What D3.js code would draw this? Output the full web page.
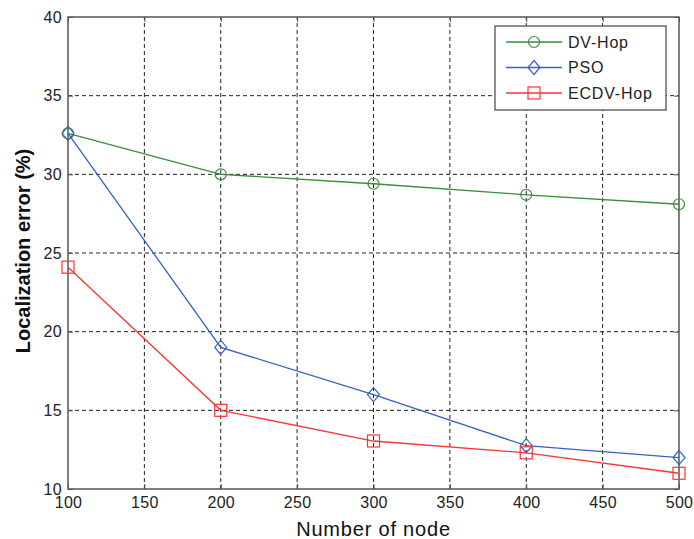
<!DOCTYPE html>
<html>
<head>
<meta charset="utf-8">
<script src="https://cdn.jsdelivr.net/npm/d3@7"></script>
<style>
  body { margin: 0; background: #fff; }
  svg text { font-family: "Liberation Sans", Arial, sans-serif; }
</style>
</head>
<body>
<div id="container"></div>
<script>
/* DATA */
const nodes = [100, 200, 300, 400, 500];
const dvHop = [32.6, 30.0, 29.4, 28.7, 28.1];
const pso = [32.6, 19.0, 16.0, 12.75, 12.0];
const ecdvHop = [24.1, 15.0, 13.05, 12.3, 11.0];
const xTicks = [100, 150, 200, 250, 300, 350, 400, 450, 500];
const yTicks = [10, 15, 20, 25, 30, 35, 40];

const width = 694, height = 539,
  margin = { top: 17, bottom: 50, left: 68, right: 15 };

const series = [
  { name: "DV-Hop", values: dvHop, color: "#3a8d3a", marker: "circle" },
  { name: "PSO", values: pso, color: "#3563c0", marker: "diamond" },
  { name: "ECDV-Hop", values: ecdvHop, color: "#ff3333", marker: "square" }
];

const svg = d3.select("#container").append("svg")
  .attr("width", width)
  .attr("height", height);

// SCALES
const xScale = d3.scaleLinear()
  .domain([100, 500])
  .range([margin.left, width - margin.right]);

const yScale = d3.scaleLinear()
  .domain([10, 40])
  .range([height - margin.bottom, margin.top]);

const x0 = xScale.range()[0], x1 = xScale.range()[1];
const y0 = yScale.range()[0], y1 = yScale.range()[1];

// GRID (dashed)
svg.append("g").selectAll("line")
  .data(xTicks.slice(1, -1))
  .join("line")
  .attr("x1", d => xScale(d)).attr("x2", d => xScale(d))
  .attr("y1", y0).attr("y2", y1)
  .attr("stroke", "#222").attr("stroke-dasharray", "4,3");

svg.append("g").selectAll("line")
  .data(yTicks.slice(1, -1))
  .join("line")
  .attr("y1", d => yScale(d)).attr("y2", d => yScale(d))
  .attr("x1", x0).attr("x2", x1)
  .attr("stroke", "#222").attr("stroke-dasharray", "4,3");

// AXES (Matlab style: ticks inward, on all four sides)
const axisColor = "#555";
function styleAxis(g) {
  g.select(".domain").remove();
  g.selectAll(".tick line").attr("stroke", axisColor);
  g.selectAll(".tick text").attr("fill", "#222").style("font-size", "16px")
    .style("letter-spacing", "0.3px")
    .style("font-family", "Liberation Sans, Arial, sans-serif");
}

svg.append("g")
  .attr("transform", `translate(0,${y0})`)
  .call(d3.axisBottom(xScale).tickValues(xTicks).tickSizeInner(-5).tickSizeOuter(0).tickPadding(8))
  .call(styleAxis);

svg.append("g")
  .attr("transform", `translate(0,${y1})`)
  .call(d3.axisTop(xScale).tickValues(xTicks).tickSizeInner(-5).tickSizeOuter(0).tickFormat(""))
  .call(styleAxis);

svg.append("g")
  .attr("transform", `translate(${x0},0)`)
  .call(d3.axisLeft(yScale).tickValues(yTicks).tickSizeInner(-5).tickSizeOuter(0).tickPadding(6))
  .call(styleAxis);

svg.append("g")
  .attr("transform", `translate(${x1},0)`)
  .call(d3.axisRight(yScale).tickValues(yTicks).tickSizeInner(-5).tickSizeOuter(0).tickFormat(""))
  .call(styleAxis);

svg.append("rect")
  .attr("x", x0).attr("y", y1)
  .attr("width", x1 - x0).attr("height", y0 - y1)
  .attr("fill", "none").attr("stroke", axisColor).attr("stroke-width", 1.5);

// AXIS LABELS
svg.append("text")
  .attr("x", (x0 + x1) / 2)
  .attr("y", 536)
  .attr("text-anchor", "middle")
  .attr("fill", "#111")
  .style("font-size", "20px")
  .style("letter-spacing", "0.8px")
  .text("Number of node");

svg.append("text")
  .attr("transform", `translate(30,${(y0 + y1) / 2 - 2}) rotate(-90)`)
  .attr("text-anchor", "middle")
  .attr("fill", "#111")
  .style("font-size", "20px")
  .style("font-weight", "bold")
  .text("Localization error (%)");

// MARKERS
function drawMarker(g, type, cx, cy, color) {
  if (type === "circle") {
    g.append("circle").attr("cx", cx).attr("cy", cy).attr("r", 5.5)
      .attr("fill", "none").attr("stroke", color).attr("stroke-width", 1.2);
  } else if (type === "diamond") {
    g.append("path")
      .attr("d", `M${cx},${cy - 7}L${cx + 6},${cy}L${cx},${cy + 7}L${cx - 6},${cy}Z`)
      .attr("fill", "none").attr("stroke", color).attr("stroke-width", 1.2);
  } else {
    g.append("rect").attr("x", cx - 6).attr("y", cy - 6).attr("width", 12).attr("height", 12)
      .attr("fill", "none").attr("stroke", color).attr("stroke-width", 1.2);
  }
}

// LINES
const lineGen = d3.line()
  .x((d, i) => xScale(nodes[i]))
  .y(d => yScale(d));

series.forEach(s => {
  svg.append("path")
    .datum(s.values)
    .attr("d", lineGen)
    .attr("fill", "none")
    .attr("stroke", s.color)
    .attr("stroke-width", 1.3);
  const g = svg.append("g");
  s.values.forEach((v, i) => drawMarker(g, s.marker, xScale(nodes[i]), yScale(v), s.color));
});

// LEGEND
const legend = svg.append("g");
legend.append("rect")
  .attr("x", 495).attr("y", 26).attr("width", 171).attr("height", 84)
  .attr("fill", "#fff").attr("stroke", "#444").attr("stroke-width", 1.2);

series.forEach((s, i) => {
  const ly = 42 + i * 25.5;
  legend.append("line")
    .attr("x1", 506).attr("x2", 562).attr("y1", ly).attr("y2", ly)
    .attr("stroke", s.color).attr("stroke-width", 1.3);
  drawMarker(legend, s.marker, 534, ly, s.color);
  legend.append("text")
    .attr("x", 568).attr("y", ly + 5.5)
    .attr("fill", "#222")
    .style("font-size", "16px")
    .style("letter-spacing", "0.8px")
    .text(s.name);
});
</script>
</body>
</html>
